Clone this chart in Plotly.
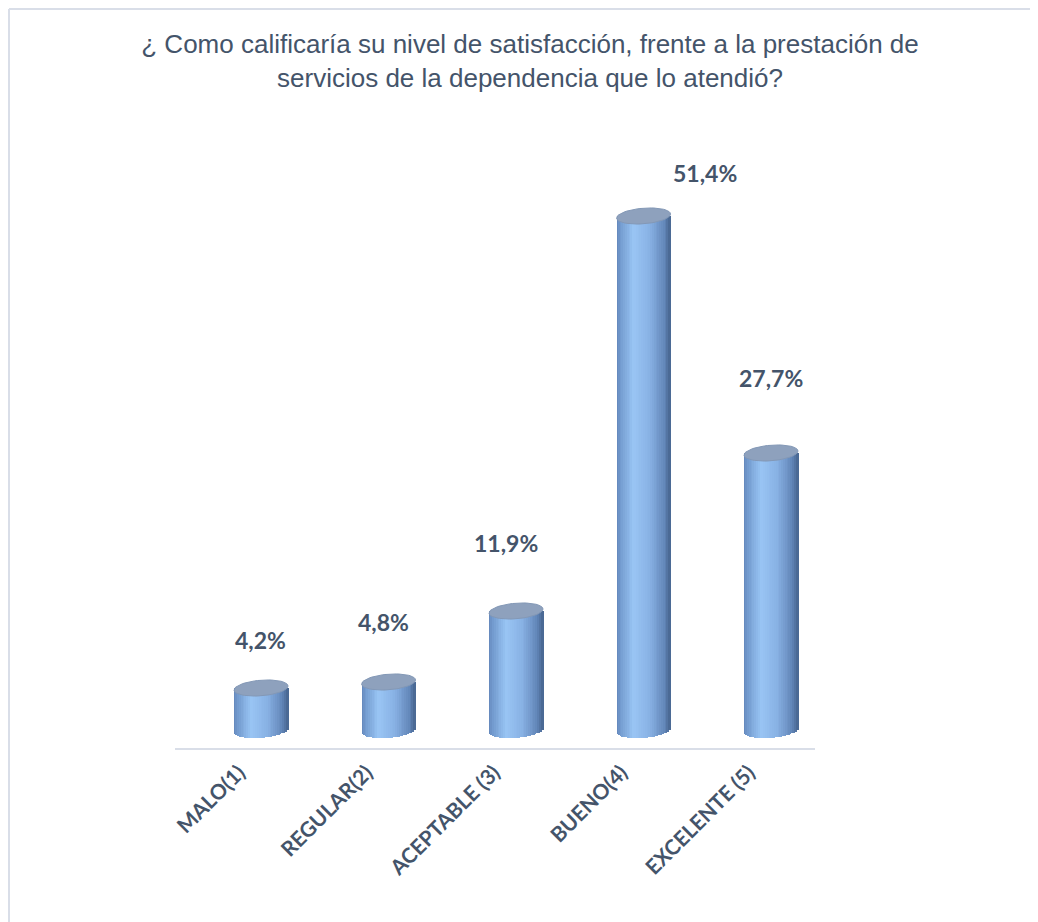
import numpy as np
import plotly.graph_objects as go

# ---- data ----
categories = ["MALO(1)", "REGULAR(2)", "ACEPTABLE (3)", "BUENO(4)", "EXCELENTE (5)"]
values = [4.2, 4.8, 11.9, 51.4, 27.7]
value_labels = ["4,2%", "4,8%", "11,9%", "51,4%", "27,7%"]
title_text = "¿ Como calificaría su nivel de satisfacción, frente a la prestación de<br>servicios de la dependencia que lo atendió?"

# ---- style / geometry ----
FIG_W, FIG_H = 1038, 922
M_L, M_R, M_T, M_B = 167, 231, 152, 182
X_RANGE = [-0.675, 4.345]
Y_RANGE = [-1.8, 57]
BAR_W = 0.4235          # bar width in category units
RY = 0.78               # ellipse half-height in value units
TILT = 0.2
N_STRIPES = 30
TEXT_COL = "#44546a"
label_xshift = [-1, -5, -10, 61, 0]
label_yshift = [48, 60, 68, 43, 75]

x_idx = np.arange(len(categories))
vals = np.array(values, dtype=float)

# cylinder shading
stops_u = [-1.0, -0.85, -0.35, 0.25, 0.8, 1.0]
stops_c = np.array([
    [98, 134, 186],
    [114, 154, 206],
    [153, 197, 244],
    [136, 177, 228],
    [98, 134, 184],
    [70, 100, 142],
])


def shade(u):
    c = [np.interp(u, stops_u, stops_c[:, k]) for k in range(3)]
    return "rgb(%d,%d,%d)" % tuple(int(round(v)) for v in c)


fig = go.Figure()

sw = BAR_W / N_STRIPES
for i in range(N_STRIPES):
    u = -1 + (i + 0.5) * 2 / N_STRIPES
    bottom = -RY * np.sqrt(max(0.0, 1 - u * u)) + TILT * u
    base = np.full(len(vals), bottom)
    fig.add_trace(go.Bar(
        x=x_idx, y=vals - base, base=base,
        width=sw * 1.6, offset=-BAR_W / 2 + i * sw - (0 if i == 0 else sw * 0.3),
        marker=dict(color=shade(u), line=dict(width=0)),
        showlegend=False, hoverinfo="skip",
    ))

# top ellipses
t = np.linspace(0, 2 * np.pi, 60)
ex, ey = [], []
for xi, v in zip(x_idx, vals):
    ex += list(xi + (BAR_W / 2) * np.cos(t)) + [None]
    ey += list(v + RY * np.sin(t) + TILT * np.cos(t)) + [None]
fig.add_trace(go.Scatter(
    x=ex, y=ey, mode="lines", fill="toself",
    fillcolor="#8ea1bd", line=dict(color="#8398b6", width=1),
    showlegend=False, hoverinfo="skip",
))

# value labels
for xi, v, lab, dx, dy in zip(x_idx, vals, value_labels, label_xshift, label_yshift):
    fig.add_annotation(
        x=xi, y=v, text=lab, showarrow=False,
        xshift=dx, yshift=dy, yanchor="middle", xanchor="center",
        font=dict(family="Lato", size=23, color=TEXT_COL, weight="bold"),
    )

# frame lines (top and left) in paper coords
pw = FIG_W - M_L - M_R
ph = FIG_H - M_T - M_B


def px2paper(px, py):
    return (px - M_L) / pw, (FIG_H - M_B - py) / ph


x0, y0 = px2paper(1, 1)
x1, _ = px2paper(FIG_W + 5, 1)
_, y1 = px2paper(1, FIG_H + 5)
fig.add_shape(type="line", xref="paper", yref="paper", x0=x0, y0=y0, x1=x1, y1=y0,
              line=dict(color="#d9dee8", width=2))
fig.add_shape(type="line", xref="paper", yref="paper", x0=x0, y0=y0, x1=x0, y1=y1,
              line=dict(color="#d9dee8", width=2))

fig.update_layout(
    width=FIG_W, height=FIG_H,
    margin=dict(l=M_L, r=M_R, t=M_T, b=M_B),
    paper_bgcolor="white", plot_bgcolor="white",
    barmode="overlay", bargap=0,
    title=dict(
        text=title_text, xref="container", yref="container",
        x=522 / FIG_W, y=1 - 45 / FIG_H, xanchor="center", yanchor="middle",
        font=dict(family="Liberation Sans", size=26, color=TEXT_COL),
    ),
    xaxis=dict(
        range=X_RANGE, tickmode="array", tickvals=list(x_idx), ticktext=categories,
        tickangle=-45, showgrid=False, zeroline=False,
        showline=True, linecolor="#d9dee8", linewidth=2,
        ticks="", ticklabelshift=-22, ticklabelstandoff=2,
        tickfont=dict(family="Lato", size=21, color=TEXT_COL, weight="bold"),
    ),
    yaxis=dict(range=Y_RANGE, visible=False, showgrid=False, zeroline=False),
)

fig.write_html("out.html")
